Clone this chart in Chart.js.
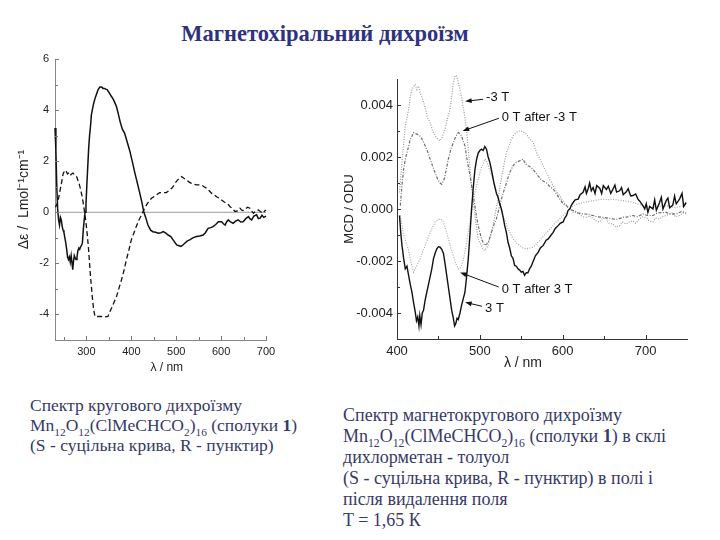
<!DOCTYPE html>
<html lang="uk">
<head>
<meta charset="utf-8">
<title>Магнетохіральний дихроїзм</title>
<script src="https://cdn.jsdelivr.net/npm/chart.js@4.4.1/dist/chart.umd.min.js"></script>
<style>
  html, body { margin: 0; padding: 0; background: #fff; }
  body { width: 720px; height: 540px; position: relative; overflow: hidden; }
  #title { position: absolute; left: 0; width: 650px; top: 22px; line-height: 24px; text-align: center;
           font-family: "Liberation Serif", "DejaVu Serif", serif; font-weight: bold; font-size: 22.5px; color: #2e3180; }
  canvas { position: absolute; }
  .cap { position: absolute; font-family: "Liberation Serif", "DejaVu Serif", serif; font-size: 17.5px;
         color: #363a66; white-space: nowrap; }
  .cap sub { font-size: 0.65em; vertical-align: -0.4em; line-height: 0; }
</style>
</head>
<body>
<div id="title">Магнетохіральний дихроїзм</div>
<canvas id="cdChart" width="300" height="345" style="left:0;top:40px"></canvas>
<canvas id="mcdChart" width="420" height="345" style="left:300px;top:40px"></canvas>
<div class="cap" style="left:30px;top:395px;line-height:20px">Спектр кругового дихроїзму<br>Mn<sub>12</sub>O<sub>12</sub>(ClMeCHCO<sub>2</sub>)<sub>16</sub> (сполуки <b>1</b>)<br>(S - суцільна крива, R - пунктир)</div>
<div class="cap" style="left:343px;top:405px;line-height:21px;font-size:18px">Спектр магнетокругового дихроїзму<br>Mn<sub>12</sub>O<sub>12</sub>(ClMeCHCO<sub>2</sub>)<sub>16</sub> (сполуки <b>1</b>) в склі<br>дихлорметан - толуол<br>(S - суцільна крива, R - пунктир) в полі і<br>після видалення поля<br>T = 1,65 К</div>
<script>
// ---- left: CD spectrum, Δε vs λ (nm) ----
const cdXTicks = [300, 400, 500, 600, 700];
const cdXMinor = [250, 350, 450, 550, 650];
const cdYTicks = [-4, -2, 0, 2, 4, 6];
const cdYMinor = [-3, -1, 1, 3, 5];
const cdZero = [[230, 0], [700, 0]];

// S enantiomer, solid
const cdS = [
  [230, 3.3], [232, 2.4], [234, 1.0], [236, 0.1], [238, -0.3], [240, -0.5], [242, -0.2], [244, -0.3],
  [246, -0.55], [248, -0.7], [250, -0.8], [252, -1.0], [254, -1.2], [256, -1.45], [258, -1.75], [260, -1.85],
  [262, -1.75], [264, -1.95], [266, -1.7], [268, -2.0], [269.5, -2.25], [271, -1.95], [273, -1.7],
  [275, -1.8], [277, -1.85], [279, -1.75], [281, -1.5], [283, -1.4], [285, -1.45], [287, -1.35],
  [289, -1.3], [291, -1.2], [293, -0.7], [295, -0.3], [297, 0], [299, 0.3], [301, 1.1], [303, 1.8],
  [305, 2.5], [307, 3.0], [309, 3.35], [311, 3.8], [313, 4.0], [316, 4.25], [319, 4.45], [322, 4.6],
  [326, 4.8], [330, 4.9], [334, 4.9], [337, 4.85], [340, 4.85], [343, 4.82], [346, 4.8], [350, 4.7],
  [355, 4.55], [359, 4.45], [363, 4.3], [367, 4.13], [371, 3.85], [375, 3.55], [380, 3.25], [385, 3.1],
  [390, 2.8], [396, 2.44], [402, 2.0], [408, 1.53], [414, 1.1], [419, 0.74], [424, 0.35], [428, 0],
  [432, -0.2], [437, -0.5], [443, -0.7], [448, -0.76], [454, -0.78], [460, -0.82], [466, -0.8],
  [471, -0.76], [477, -0.82], [482, -0.89], [488, -0.95], [493, -1.08], [497, -1.18], [501, -1.28],
  [505, -1.3], [510, -1.34], [514, -1.3], [519, -1.21], [525, -1.12], [530, -1.08], [537, -1.0],
  [545, -0.95], [552, -0.93], [560, -0.89], [565, -0.8], [571, -0.63], [577, -0.6], [582, -0.56],
  [588, -0.48], [594, -0.37], [601, -0.37], [605, -0.45], [609, -0.5], [612, -0.38], [616, -0.3],
  [621, -0.38], [627, -0.43], [632, -0.35], [638, -0.3], [644, -0.38], [649, -0.37], [655, -0.25],
  [661, -0.17], [664, -0.25], [668, -0.3], [673, -0.15], [679, -0.1], [683, -0.25], [687, -0.23],
  [691, -0.12], [695, -0.2], [700, -0.15]
];

// R enantiomer, dashed
const cdR = [
  [231, 0.2], [234, 0.3], [237, 0.45], [240, 0.74], [244, 1.1], [248, 1.5], [252, 1.65], [255, 1.6],
  [258, 1.5], [261, 1.55], [264, 1.45], [267, 1.5], [270, 1.53], [274, 1.45], [278, 1.4], [281, 1.25],
  [284, 1.1], [287, 0.9], [290, 0.65], [293, 0.35], [296, 0.0], [299, -0.4], [302, -0.9], [305, -1.5],
  [309, -2.5], [313, -3.3], [316, -3.8], [319, -4.08], [326, -4.08], [333, -4.08], [340, -4.1],
  [348, -4.08], [352, -3.9], [356, -3.75], [362, -3.5], [367, -3.3], [372, -3.0], [378, -2.65],
  [384, -2.25], [389, -1.86], [395, -1.45], [400, -1.08], [406, -0.8], [411, -0.56], [417, -0.3],
  [423, -0.1], [428, 0.1], [434, 0.29], [440, 0.45], [445, 0.55], [451, 0.62], [456, 0.68], [463, 0.77],
  [470, 0.77], [478, 0.77], [484, 0.85], [490, 0.94], [495, 1.05], [500, 1.2], [506, 1.32], [512, 1.4],
  [517, 1.33], [523, 1.26], [529, 1.18], [534, 1.13], [540, 1.1], [545, 1.07], [551, 1.07], [556, 1.07],
  [562, 1.0], [568, 0.94], [573, 0.85], [579, 0.74], [585, 0.68], [590, 0.61], [596, 0.55], [601, 0.48],
  [607, 0.4], [612, 0.35], [616, 0.3], [620, 0.22], [625, 0.15], [631, 0.03], [636, 0.05], [642, 0.16],
  [646, 0.08], [649, 0.07], [654, 0.12], [659, 0.2], [664, 0.16], [668, 0.05], [672, -0.04], [677, 0.05],
  [683, 0.09], [688, 0.02], [694, -0.04], [697, 0.05], [700, 0.09]
];

// ---- right: MCD spectrum, values in 10^-3 ODU ----
const mcdXTicks = [400, 500, 600, 700];
const mcdXMinor = [450, 550, 650];
const mcdYTicks = [-4, -2, 0, 2, 4];
const mcdYMinor = [-3, -1, 1, 3];

const mcd3T = [
  [403, -0.25], [404.5, -0.9], [406, -1.4], [408, -1.9], [410, -2.3], [412, -2.2], [414, -2.55], [416, -2.9],
  [418, -3.2], [420, -3.6], [422, -3.96], [423.5, -4.3], [425, -4.15], [426.5, -4.5], [427.5, -4.1],
  [429, -4.45], [430.5, -4.0], [432, -3.9], [434, -3.5], [436, -3.2], [438, -2.9], [440, -2.6], [442, -2.3],
  [444, -1.92], [446, -1.7], [448, -1.53], [450, -1.45], [452, -1.47], [454, -1.55], [456, -1.7],
  [458, -2.1], [460, -2.55], [462, -3.0], [464, -3.45], [466, -3.9], [468, -4.2], [469.5, -4.5],
  [471, -4.4], [472.5, -4.2], [474, -4.25], [476, -4.0], [478, -3.7], [480, -3.45], [482, -3.2],
  [484, -2.6], [486, -1.92], [488, -1.0], [490, 0], [492, 0.8], [494, 1.5], [496, 1.9], [498, 2.15],
  [500, 2.25], [502, 2.3], [504, 2.25], [506, 2.4], [508, 2.3], [510, 2.0], [512, 1.8], [514, 1.5],
  [517, 1.0], [520, 0.6], [522, 0.45], [524, 0.2], [526, 0], [528, -0.3], [530, -0.64], [532, -0.9],
  [534, -1.28], [536, -1.5], [538, -1.8], [540, -1.9], [542, -2.17], [544, -2.2], [546, -2.3],
  [548, -2.35], [550, -2.43], [552, -2.4], [554, -2.55], [556, -2.45], [558, -2.45], [560, -2.3],
  [562, -2.2], [564.5, -2.0], [567, -1.8], [570.5, -1.66], [573, -1.5], [576.5, -1.4], [580, -1.2],
  [582.5, -1.15], [586, -1.0], [588.5, -0.9], [591, -0.75], [594.5, -0.64], [597, -0.55], [600.5, -0.5],
  [602.5, -0.35], [604.6, -0.25], [606.5, -0.05], [608.6, 0], [610.5, 0.15], [612.6, 0.25], [615, 0.35],
  [618.6, 0.38], [621, 0.55], [624.6, 0.64], [627, 0.85], [628.6, 0.6], [630.6, 0.77], [632.5, 1.0],
  [634.5, 0.7], [636.7, 0.83], [639, 0.6], [641, 0.9], [644.7, 0.8], [647, 0.6], [649, 0.9], [652.7, 0.75],
  [655, 0.88], [658, 0.6], [660.7, 0.77], [663, 0.92], [665, 0.65], [668.7, 0.7], [671, 0.82], [673, 0.55],
  [676.8, 0.66], [679, 0.78], [682, 0.5], [684.8, 0.52], [688, 0.58], [690.8, 0.38], [693, 0.3],
  [696.8, 0.13], [699, 0.0], [700.8, 0.2], [702.8, -0.13], [705, 0.1], [708.9, 0.0], [711, 0.35],
  [713, -0.05], [716.9, 0.25], [719, 0.45], [721, 0.0], [724.9, 0.32], [727, 0.42], [729, 0.05],
  [732.9, 0.15], [735, 0.5], [737, 0.2], [741, 0.38], [744, 0.6], [746, 0.1], [749, 0.25]
];

const mcdMinus3T = [
  [403, 0.64], [406, 1.8], [408, 2.5], [410, 3.2], [412, 3.5], [414, 3.83], [416, 4.3], [418, 4.6],
  [420, 4.7], [422, 4.8], [424, 4.6], [426, 4.73], [428, 4.47], [430, 4.3], [432, 4.1], [434, 3.9],
  [437, 3.5], [440, 3.32], [443, 3.0], [446, 2.8], [449, 2.7], [452, 2.62], [455, 2.8], [458, 3.07],
  [461, 3.5], [464, 3.83], [466, 4.3], [468, 4.86], [470, 5.1], [471.5, 5.14], [473, 5.0], [474, 4.86],
  [476, 4.6], [478, 4.28], [480, 3.9], [482, 3.5], [484, 3.0], [486, 2.3], [488, 1.6], [490, 0.9],
  [492, 0.3], [494, -0.25], [496, -0.7], [498, -1.15], [500, -1.3], [502, -1.4], [504, -1.55], [506, -1.6],
  [508, -1.5], [510, -1.4], [513, -1.0], [516, -0.64], [519, -0.1], [522, 0.38], [525, 1.0], [528, 1.53],
  [532, 2.17], [535, 2.4], [538, 2.68], [541, 2.85], [544, 2.94], [547, 3.0], [550, 3.0], [553, 2.95],
  [556, 2.88], [560, 2.7], [564.5, 2.56], [568, 2.2], [572.5, 1.92], [576, 1.7], [580.5, 1.4], [584, 1.15],
  [588.5, 0.9], [592, 0.7], [596.5, 0.5], [600.5, 0.3], [604.6, 0.13], [608, 0.0], [612.6, -0.13],
  [616, -0.1], [620.6, -0.19], [624, -0.3], [628.6, -0.32], [632, -0.25], [636.7, -0.38], [640, -0.45],
  [644.7, -0.5], [648, -0.35], [652.7, -0.38], [656, -0.55], [660.7, -0.58], [664, -0.7], [668.7, -0.64],
  [672, -0.5], [676.8, -0.58], [680, -0.5], [684.8, -0.45], [688, -0.55], [692.8, -0.38], [696, -0.3],
  [700.8, -0.32], [704, -0.45], [708.9, -0.5], [712, -0.35], [716.9, -0.38], [720, -0.3], [724.9, -0.25],
  [728, -0.2], [732.9, -0.13], [736, -0.3], [741, -0.25], [745, -0.15], [749, -0.19]
];

const mcd0AfterMinus3T = [
  [404, 0.13], [406, 0.9], [408, 1.53], [410, 1.9], [412, 2.17], [414, 2.4], [416, 2.68], [418, 2.8],
  [420, 2.94], [422, 2.9], [424, 2.88], [426, 2.85], [428, 2.8], [430, 2.7], [434, 2.43], [437, 2.2],
  [440, 1.92], [443, 1.65], [446, 1.4], [449, 1.15], [452, 1.0], [454, 0.95], [457, 1.15], [460, 1.6],
  [462, 1.92], [465, 2.3], [468, 2.56], [471, 2.8], [474, 2.94], [476, 2.9], [478, 2.8], [480, 2.6],
  [482, 2.43], [484, 2.0], [486, 1.66], [488, 1.3], [490, 0.9], [492, 0.5], [494, 0.13], [496, -0.3],
  [498, -0.64], [500, -0.9], [502, -1.15], [504, -1.3], [506, -1.4], [508, -1.35], [510, -1.28],
  [512, -1.1], [514, -0.9], [517, -0.6], [520, -0.38], [523, 0.0], [526, 0.38], [529, 0.7], [532, 1.0],
  [536, 1.4], [540, 1.66], [544, 1.8], [548, 1.85], [552, 1.92], [555, 1.75], [558, 1.66], [562, 1.6],
  [566, 1.45], [570, 1.28], [575, 1.1], [580.5, 1.0], [585, 0.85], [588.5, 0.77], [592, 0.6],
  [596.5, 0.38], [600.5, 0.2], [604.6, 0.13], [608, 0.0], [612.6, -0.06], [618, -0.15], [624.6, -0.19],
  [630, -0.2], [636.7, -0.25], [642, -0.3], [648.7, -0.32], [655, -0.35], [660.7, -0.38], [666, -0.4],
  [672.8, -0.32], [678, -0.3], [684.8, -0.25], [690, -0.3], [696.8, -0.19], [702, -0.25], [708.9, -0.25],
  [715, -0.15], [724.9, -0.13], [730, -0.2], [736.9, -0.19], [743, -0.1], [749, -0.13]
];

const mcd0After3T = [
  [404, -0.25], [406, -0.6], [408, -1.0], [410, -1.2], [412, -1.4], [414, -1.6], [416, -1.92], [418, -2.2],
  [420, -2.43], [422, -2.3], [424, -2.17], [426, -2.05], [428, -1.92], [431, -1.65], [434, -1.4],
  [437, -1.15], [440, -0.9], [443, -0.7], [446, -0.5], [449, -0.42], [452, -0.38], [454, -0.42],
  [456, -0.5], [459, -0.8], [462, -1.15], [465, -1.5], [468, -1.8], [471, -2.1], [474, -2.3], [476, -2.3],
  [478, -2.17], [480, -1.95], [482, -1.66], [484, -1.3], [486, -0.9], [488, -0.5], [490, -0.13],
  [492, 0.25], [494, 0.64], [497, 1.0], [500, 1.4], [503, 1.7], [506, 1.92], [508, 1.85], [510, 1.66],
  [513, 1.4], [516, 1.15], [519, 0.8], [522, 0.38], [525, 0.05], [528, -0.25], [531, -0.5], [534, -0.77],
  [537, -0.95], [540, -1.15], [544, -1.3], [548, -1.4], [552, -1.5], [556, -1.53], [560, -1.5],
  [564.5, -1.47], [568, -1.35], [572.5, -1.2], [576.5, -1.05], [580.5, -0.9], [584, -0.8], [588.5, -0.64],
  [592, -0.5], [596.5, -0.38], [600.5, -0.25], [604.6, -0.13], [608, 0.0], [612.6, 0.13], [618, 0.2],
  [624.6, 0.25], [630, 0.28], [636.7, 0.32], [642, 0.35], [648.7, 0.38], [655, 0.36], [660.7, 0.38],
  [666, 0.35], [672.8, 0.32], [678, 0.3], [684.8, 0.25], [690, 0.2], [696.8, 0.13], [702, 0.1],
  [708.9, 0.06], [715, 0.1], [724.9, 0.13], [730, 0.08], [736.9, 0.06], [743, 0.1], [749, 0.13]
];

// curve labels with arrows (text anchor, arrow start, arrow tip) in data units
const mcdNotes = [
  { text: '-3 T', at: [507.5, 4.3], from: [503.8, 4.22], to: [482.2, 4.14] },
  { text: '0 T after -3 T', at: [526.4, 3.53], from: [523, 3.49], to: [479.2, 3.0] },
  { text: '0 T after 3 T', at: [526.4, -3.08], from: [522.7, -3.0], to: [476.2, -2.44] },
  { text: '3 T', at: [506.3, -3.82], from: [502.6, -3.74], to: [482.2, -3.59] }
];

const SANS = '"Liberation Sans", Arial, sans-serif';
Chart.defaults.font.family = SANS;
Chart.defaults.color = '#222';

const pts = arr => arr.map(([x, y]) => ({ x, y }));

// inward tick marks (Chart.js only draws them outward)
const innerTicks = {
  id: 'innerTicks',
  afterDraw(chart, args, opts) {
    const { ctx, chartArea: a, scales: { x, y } } = chart;
    ctx.save();
    ctx.strokeStyle = opts.color;
    ctx.lineWidth = 1;
    ctx.beginPath();
    const onX = (vals, len) => vals.forEach(v => {
      const px = Math.round(x.getPixelForValue(v)) + 0.5;
      ctx.moveTo(px, a.bottom);
      ctx.lineTo(px, a.bottom - len);
    });
    const onY = (vals, len) => vals.forEach(v => {
      const py = Math.round(y.getPixelForValue(v)) + 0.5;
      ctx.moveTo(a.left, py);
      ctx.lineTo(a.left + len, py);
    });
    onX(opts.x, 4); onX(opts.xMinor, 3);
    onY(opts.y, 4); onY(opts.yMinor, 3);
    ctx.stroke();
    ctx.restore();
  }
};

// x axis title placed under a given wavelength
const xTitle = {
  id: 'xTitle',
  afterDraw(chart, args, opts) {
    const { ctx, chartArea: a, scales: { x } } = chart;
    ctx.save();
    ctx.font = opts.size + 'px ' + SANS;
    ctx.fillStyle = '#222';
    ctx.textAlign = 'center';
    ctx.textBaseline = 'middle';
    ctx.fillText(opts.text, x.getPixelForValue(opts.at), a.bottom + opts.offset);
    ctx.restore();
  }
};

const notes = {
  id: 'notes',
  afterDraw(chart, args, opts) {
    if (!opts.items) return;
    const { ctx, scales: { x, y } } = chart;
    const P = ([vx, vy]) => [x.getPixelForValue(vx), y.getPixelForValue(vy)];
    ctx.save();
    ctx.font = '13px ' + SANS;
    ctx.fillStyle = '#111';
    ctx.strokeStyle = '#111';
    ctx.lineWidth = 1;
    ctx.textBaseline = 'middle';
    opts.items.forEach(n => {
      const [tx, ty] = P(n.at);
      ctx.fillText(n.text, tx, ty);
      const [x0, y0] = P(n.from);
      const [x1, y1] = P(n.to);
      const ang = Math.atan2(y1 - y0, x1 - x0);
      ctx.beginPath();
      ctx.moveTo(x0, y0);
      ctx.lineTo(x1 - 5 * Math.cos(ang), y1 - 5 * Math.sin(ang));
      ctx.stroke();
      ctx.beginPath();
      ctx.moveTo(x1, y1);
      ctx.lineTo(x1 - 7 * Math.cos(ang - 0.35), y1 - 7 * Math.sin(ang - 0.35));
      ctx.lineTo(x1 - 7 * Math.cos(ang + 0.35), y1 - 7 * Math.sin(ang + 0.35));
      ctx.closePath();
      ctx.fill();
    });
    ctx.restore();
  }
};

const line = (data, color, width, dash) => ({
  data: pts(data), borderColor: color, borderWidth: width, borderDash: dash || [],
  pointRadius: 0, fill: false, tension: 0, clip: 6
});

new Chart(document.getElementById('cdChart'), {
  type: 'line',
  data: {
    datasets: [
      line(cdS, '#111', 1.5),
      line(cdR, '#111', 1.3, [5, 3]),
      line(cdZero, '#9a9a9a', 1)
    ]
  },
  options: {
    responsive: false,
    animation: false,
    devicePixelRatio: 1,
    layout: { padding: { left: 0, right: 34, top: 19, bottom: 0 } },
    plugins: {
      legend: { display: false },
      tooltip: { enabled: false },
      innerTicks: { color: '#777', x: cdXTicks, xMinor: cdXMinor, y: cdYTicks, yMinor: cdYMinor },
      xTitle: { text: 'λ / nm', at: 479, offset: 28, size: 12 }
    },
    scales: {
      x: {
        type: 'linear', min: 230, max: 700,
        afterBuildTicks: s => { s.ticks = cdXTicks.map(v => ({ value: v })); },
        afterFit: s => { s.height = 45; },
        grid: { display: false, drawTicks: false },
        border: { color: '#888' },
        ticks: { padding: 5, font: { size: 11 }, callback: v => String(v) }
      },
      y: {
        min: -5, max: 6,
        afterBuildTicks: s => { s.ticks = cdYTicks.map(v => ({ value: v })); },
        afterFit: s => { s.width = 55; },
        grid: { display: false, drawTicks: false },
        border: { color: '#888' },
        ticks: { padding: 6, font: { size: 11 }, callback: v => String(v) },
        title: { display: true, text: 'Δε /  Lmol⁻¹cm⁻¹', font: { size: 14 }, padding: { top: 16, bottom: 0 } }
      }
    }
  },
  plugins: [innerTicks, xTitle]
});

new Chart(document.getElementById('mcdChart'), {
  type: 'line',
  data: {
    datasets: [
      line(mcd3T, '#111', 1.4),
      line(mcd0AfterMinus3T, '#6e6e6e', 1.2, [3, 1.5, 1, 1.5]),
      line(mcdMinus3T, '#9a9a9a', 1.2, [1, 1.5]),
      line(mcd0After3T, '#a8a8a8', 1.2, [1, 1.5])
    ]
  },
  options: {
    responsive: false,
    animation: false,
    devicePixelRatio: 1,
    layout: { padding: { left: 0, right: 33, top: 39, bottom: 0 } },
    plugins: {
      legend: { display: false },
      tooltip: { enabled: false },
      innerTicks: { color: '#333', x: mcdXTicks, xMinor: mcdXMinor, y: mcdYTicks, yMinor: mcdYMinor },
      xTitle: { text: 'λ / nm', at: 552, offset: 24, size: 14 },
      notes: { items: mcdNotes }
    },
    scales: {
      x: {
        type: 'linear', min: 400, max: 750,
        afterBuildTicks: s => { s.ticks = mcdXTicks.map(v => ({ value: v })); },
        afterFit: s => { s.height = 46; },
        grid: { display: false, drawTicks: false },
        border: { color: '#333' },
        ticks: { padding: 5, font: { size: 13 }, callback: v => String(v) }
      },
      y: {
        min: -5, max: 5,
        afterBuildTicks: s => { s.ticks = mcdYTicks.map(v => ({ value: v })); },
        afterFit: s => { s.width = 97; },
        grid: { display: false, drawTicks: false },
        border: { color: '#333' },
        ticks: { padding: 4, font: { size: 13 }, callback: v => (v / 1000).toFixed(3) },
        title: { display: true, text: 'MCD / ODU', font: { size: 13 }, padding: { top: 42, bottom: 0 } }
      }
    }
  },
  plugins: [innerTicks, xTitle, notes]
});
</script>
</body>
</html>
